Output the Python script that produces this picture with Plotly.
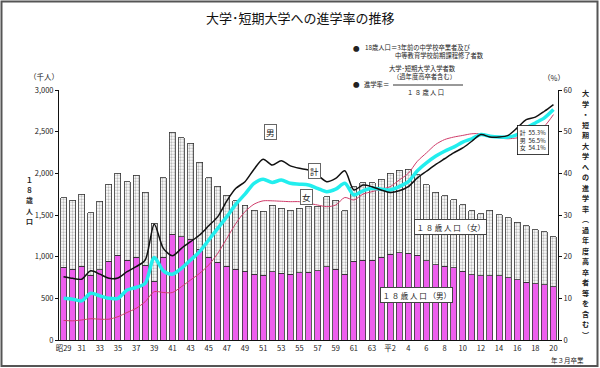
import plotly.graph_objects as go

# ---------------- data ----------------
years = list(range(1954, 2009))
tick_years = years[::2]
tick_labels = ["昭29", "31", "33", "35", "37", "39", "41", "43", "45", "47", "49", "51", "53", "55",
               "57", "59", "61", "63", "平2", "4", "6", "8", "10", "12", "14", "16", "18", "20"]

# 18-year-old population (thousand persons)
pop_male = [876, 848, 888, 776, 844, 948, 1016, 960, 992, 896,
            704, 996, 1272, 1240, 1212, 1088, 992, 932, 888, 848,
            824, 792, 780, 820, 800, 792, 808, 812, 832, 880,
            848, 792, 944, 960, 960, 992, 1028, 1048, 1040, 1018,
            954, 906, 886, 866, 826, 786, 774, 774, 774, 746,
            726, 694, 678, 666, 638]
pop_female = [834, 832, 860, 749, 820, 924, 984, 940, 984, 880,
              696, 952, 1220, 1188, 1148, 1044, 956, 916, 848, 824,
              792, 768, 764, 796, 780, 768, 772, 792, 776, 840,
              832, 760, 896, 928, 928, 936, 972, 992, 1008, 968,
              912, 868, 848, 820, 796, 764, 744, 784, 732, 720,
              688, 680, 648, 636, 600]

# enrolment rate (%)
rate_male = [15.2, 14.8, 14.6, 16.6, 15.8, 14.8, 14.9, 16.4, 17.6, 19.2,
             27.8, 22.0, 20.2, 22.0, 23.6, 25.2, 27.4, 29.6, 33.4, 36.4,
             38.0, 41.0, 43.4, 42.0, 43.0, 41.8, 41.2, 40.8, 39.6, 38.0,
             38.8, 40.6, 36.0, 37.2, 36.8, 36.0, 35.4, 35.8, 36.8, 38.9,
             40.5, 42.1, 43.5, 44.9, 46.1, 47.7, 49.3, 48.7, 48.7, 49.1,
             50.9, 52.9, 53.5, 54.9, 56.5]
rate_total = [10.0, 9.8, 9.4, 11.2, 10.6, 10.0, 10.0, 12.0, 12.6, 13.6,
              19.8, 16.6, 15.8, 17.2, 19.2, 21.2, 24.0, 26.8, 29.6, 32.6,
              35.0, 37.6, 38.6, 37.8, 38.4, 37.6, 37.4, 37.2, 36.4, 35.6,
              36.2, 37.6, 34.8, 35.8, 36.4, 36.2, 36.0, 36.8, 38.0, 40.6,
              42.5, 44.1, 45.3, 46.3, 47.5, 48.3, 49.3, 48.9, 48.7, 48.7,
              49.3, 50.9, 52.1, 53.3, 55.3]
rate_female = [4.7, 4.6, 4.8, 5.1, 5.0, 5.0, 5.6, 6.6, 7.6, 9.2,
               11.6, 11.4, 11.4, 12.8, 14.4, 16.0, 18.0, 20.8, 24.4, 28.0,
               30.8, 32.6, 33.4, 33.4, 33.3, 33.2, 33.2, 32.8, 32.4, 32.0,
               32.4, 34.2, 33.6, 35.0, 35.6, 36.2, 36.8, 38.4, 40.0, 42.9,
               44.9, 46.9, 48.1, 48.7, 49.1, 49.5, 49.5, 49.1, 48.5, 48.3,
               48.5, 48.7, 49.7, 51.3, 54.1]

FONT = "Noto Sans CJK JP"

# ---------------- layout geometry ----------------
Wf, Hf = 600, 368
L, R, T, B = 59, 42, 90, 28
PW, PH = Wf - L - R, Hf - T - B


def xp(p):
    return (p - L) / PW


def yp(p):
    return (Hf - B - p) / PH


fig = go.Figure()

fig.add_trace(go.Bar(
    x=years, y=pop_male, name="18歳人口（男）",
    marker=dict(color="#EE5EEE", line=dict(color="#333333", width=0.8)),
))
fig.add_trace(go.Bar(
    x=years, y=pop_female, name="18歳人口（女）",
    marker=dict(color="white",
                pattern=dict(shape=".", fgcolor="#7a7a7a", bgcolor="white", size=3, solidity=0.45),
                line=dict(color="#333333", width=0.8)),
))

fig.add_trace(go.Scatter(
    x=years, y=rate_female, yaxis="y2", mode="lines", name="女",
    line=dict(color="#D03C6A", width=1, shape="spline", smoothing=0.8),
))
fig.add_trace(go.Scatter(
    x=years, y=rate_total, yaxis="y2", mode="lines", name="計",
    line=dict(color="#22EEEE", width=3.5, shape="spline", smoothing=0.8),
))
fig.add_trace(go.Scatter(
    x=years, y=rate_male, yaxis="y2", mode="lines", name="男",
    line=dict(color="#111111", width=1.5, shape="spline", smoothing=0.8),
))

ann = []


def add_text(x, y, text, size=8, **kw):
    d = dict(xref="paper", yref="paper", x=xp(x), y=yp(y), text=text, showarrow=False,
             xanchor="center", yanchor="middle", font=dict(family=FONT, size=size, color="#222"))
    d.update(kw)
    ann.append(d)


# title
add_text(300, 18, "大学･短期大学への進学率の推移", size=13, font=dict(family=FONT, size=13, color="#111"))

# notes
add_text(356, 47.5, "●", size=6.5)
add_text(363, 47.5, "18歳人口＝3年前の中学校卒業者及び", size=6.3, xanchor="left")
add_text(393, 55, "中等教育学校前期課程修了者数", size=6.3, xanchor="left")
add_text(422, 68.5, "大学･短期大学入学者数", size=6.3)
add_text(424, 76.5, "（過年度高卒者含む）", size=6.3)
add_text(356, 84, "●", size=6.5)
add_text(362, 84, "進学率＝", size=6.3, xanchor="left")
add_text(425, 92, "１ ８ 歳 人 口", size=6.3)

# axis units
add_text(44, 77, "（千人）", size=7.5)
add_text(554, 78, "（%）", size=7.5)
add_text(567, 359.5, "年３月卒業", size=6.5)

# vertical axis titles (upright characters, stacked)
for i, ch in enumerate("１８歳人口"):
    add_text(29, 180 + i * 10.2, "<b>" + ch + "</b>", size=6.9)
right_title = "大学・短期大学への進学率︵過年度高卒者等を含む︶"
n = len(right_title)
for i, ch in enumerate(right_title):
    add_text(585, 93 + i * 10.5, "<b>" + ch + "</b>", size=7.1)

# line labels
box = dict(bordercolor="#666", borderwidth=1, borderpad=1, bgcolor="white")
add_text(270, 132, "男", size=8.5, **box)
add_text(314.5, 170.5, "計", size=8.5, **box)
add_text(306.5, 197, "女", size=8.5, **box)

# final values box
add_text(533, 140,
         f"計  {rate_total[-1]}%<br>男  {rate_male[-1]}%<br>女  {rate_female[-1]}%",
         size=6, align="left", bordercolor="#111", borderwidth=0.8, borderpad=2, bgcolor="white")

# population labels
add_text(450, 226.5, "１ ８ 歳 人 口 （女）", size=7.5,
         bordercolor="#444", borderwidth=1, borderpad=1.5, bgcolor="white")
add_text(416, 295, "１ ８ 歳 人 口 （男）", size=7.5,
         bordercolor="#444", borderwidth=1, borderpad=1.5, bgcolor="white")

shapes = [
    # fraction bar
    dict(type="line", xref="paper", yref="paper", x0=xp(393), x1=xp(463), y0=yp(85), y1=yp(85),
         line=dict(color="#333", width=1)),
    # outer frame
    dict(type="rect", xref="paper", yref="paper", x0=xp(1.5), x1=xp(597.5), y0=yp(1.5), y1=yp(366),
         line=dict(color="#555", width=2)),
]

fig.update_layout(
    width=Wf, height=Hf,
    margin=dict(l=L, r=R, t=T, b=B, pad=0),
    paper_bgcolor="white", plot_bgcolor="white",
    barmode="stack", bargap=0.34,
    showlegend=False,
    font=dict(family=FONT, size=8, color="#222"),
    xaxis=dict(range=[1953.5, 2008.5], tickmode="array", tickvals=tick_years, ticktext=tick_labels,
               showline=True, linecolor="#111", linewidth=1, showgrid=False, zeroline=False,
               ticks="", tickfont=dict(size=7.5), ticklabelstandoff=1),
    yaxis=dict(range=[0, 3000], tickvals=list(range(0, 3001, 500)), tickformat=",d",
               showline=True, linecolor="#111", linewidth=1, showgrid=False, zeroline=False,
               ticks="outside", ticklen=3, tickcolor="#111", tickfont=dict(size=7.5)),
    yaxis2=dict(range=[0, 60], tickvals=list(range(0, 61, 10)), overlaying="y", side="right",
                showline=True, linecolor="#111", linewidth=1, showgrid=False, zeroline=False,
                ticks="outside", ticklen=3, tickcolor="#111", tickfont=dict(size=7.5)),
    annotations=ann,
    shapes=shapes,
)

fig.write_html("out.html", config={"displayModeBar": False, "staticPlot": True},
               post_script="document.body.style.margin='0';document.body.style.overflow='hidden';")
